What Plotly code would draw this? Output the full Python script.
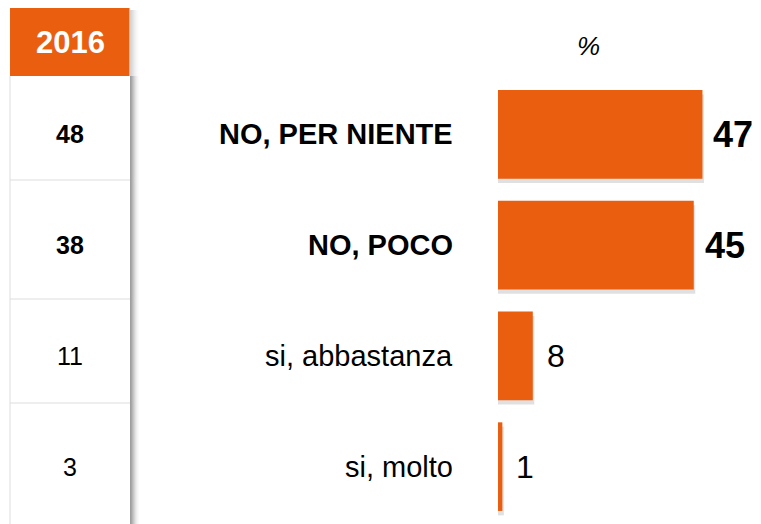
import plotly.graph_objects as go

# ---- data ----
categories = ["NO, PER NIENTE", "NO, POCO", "si, abbastanza", "si, molto"]
values_current = [47, 45, 8, 1]
values_2016 = [48, 38, 11, 3]
emphasis = [True, True, False, False]
header_label = "2016"
unit_label = "%"

# ---- style ----
PAGE_MARGIN = 8  # default body margin of the html page
W, H = 761 - PAGE_MARGIN, 524 - PAGE_MARGIN
ORANGE = "#E95E0F"
FONT = "Arial, Liberation Sans, sans-serif"


def px(x):
    return (x - PAGE_MARGIN) / W


def py(y):
    return 1 - (y - PAGE_MARGIN) / H


fig = go.Figure()

# soft shadow under bars
fig.add_trace(go.Bar(
    y=categories, x=[v + 0.35 for v in values_current], orientation="h",
    marker=dict(color="rgba(0,0,0,0.12)", line_width=0),
    width=0.8, offset=-0.4 + 0.04, hoverinfo="skip", showlegend=False,
))
fig.add_trace(go.Bar(
    y=categories, x=values_current, orientation="h",
    marker=dict(color=ORANGE, line_width=0),
    width=0.8, offset=-0.4, showlegend=False,
))

annotations = []
for cat, v, old, emph in zip(categories, values_current, values_2016, emphasis):
    # category label
    annotations.append(dict(
        x=px(455), xref="paper", y=cat, yref="y", xanchor="right", yanchor="middle",
        text=f"<b>{cat}</b>" if emph else cat, showarrow=False,
        font=dict(family=FONT, size=29, color="#000000"),
    ))
    # value label
    annotations.append(dict(
        x=v, xref="x", y=cat, yref="y", xanchor="left", yanchor="middle",
        xshift=9 if emph else 12,
        text=f"<b>{v}</b>" if emph else str(v), showarrow=False,
        font=dict(family=FONT, size=36 if emph else 32, color="#000000"),
    ))
    # 2016 table value
    annotations.append(dict(
        x=px(70), xref="paper", y=cat, yref="y", xanchor="center", yanchor="middle",
        text=f"<b>{old}</b>" if emph else str(old), showarrow=False,
        font=dict(family=FONT, size=25, color="#000000"),
    ))

annotations.append(dict(
    x=px(70), xref="paper", y=py(42), yref="paper", xanchor="center", yanchor="middle",
    text=f"<b>{header_label}</b>", showarrow=False,
    font=dict(family=FONT, size=31, color="#FFFFFF"),
))
annotations.append(dict(
    x=px(588), xref="paper", y=py(46), yref="paper", xanchor="center", yanchor="middle",
    text=f"<i>{unit_label}</i>", showarrow=False,
    font=dict(family=FONT, size=26, color="#000000"),
))

shapes = []
# table shadow (gradient on the right edge)
shadow_alpha = [0.38, 0.34, 0.28, 0.22, 0.16, 0.11, 0.07, 0.04, 0.02]
for i, a in enumerate(shadow_alpha):
    shapes.append(dict(type="line", xref="paper", yref="paper",
                       x0=px(130.5 + i), x1=px(130.5 + i), y0=py(76), y1=0,
                       line=dict(color=f"rgba(0,0,0,{a})", width=1)))
    shapes.append(dict(type="line", xref="paper", yref="paper",
                       x0=px(130.5 + i), x1=px(130.5 + i), y0=py(10), y1=py(76),
                       line=dict(color=f"rgba(0,0,0,{a * 0.45})", width=1)))
# header box
shapes.append(dict(type="rect", xref="paper", yref="paper",
                   x0=px(10), x1=px(129.5), y0=py(76), y1=min(1, py(7)),
                   fillcolor=ORANGE, line=dict(width=0), layer="above"))
# table left border and row separators
shapes.append(dict(type="line", xref="paper", yref="paper",
                   x0=px(10), x1=px(10), y0=py(76), y1=0,
                   line=dict(color="#DDDDDD", width=1)))
for yy in [180, 299, 403]:
    shapes.append(dict(type="line", xref="paper", yref="paper",
                       x0=px(10), x1=px(130), y0=py(yy), y1=py(yy),
                       line=dict(color="#DDDDDD", width=1)))

# bar axis: category centres at reference rows y = 134.5 ... 466.5 (pitch ~110.7 px)
y_top, y_bottom = 79, 522
fig.update_layout(
    width=W, height=H,
    margin=dict(l=0, r=0, t=0, b=0),
    paper_bgcolor="#FFFFFF", plot_bgcolor="#FFFFFF",
    barmode="overlay",
    font=dict(family=FONT, color="#000000"),
    xaxis=dict(domain=[px(498), 1], range=[0, (761 - 498) / 4.35], visible=False, fixedrange=True),
    yaxis=dict(domain=[py(y_bottom), py(y_top)], type="category", range=[3.5, -0.5],
               visible=False, fixedrange=True),
    annotations=annotations,
    shapes=shapes,
    showlegend=False,
)

fig.write_html("out.html")
